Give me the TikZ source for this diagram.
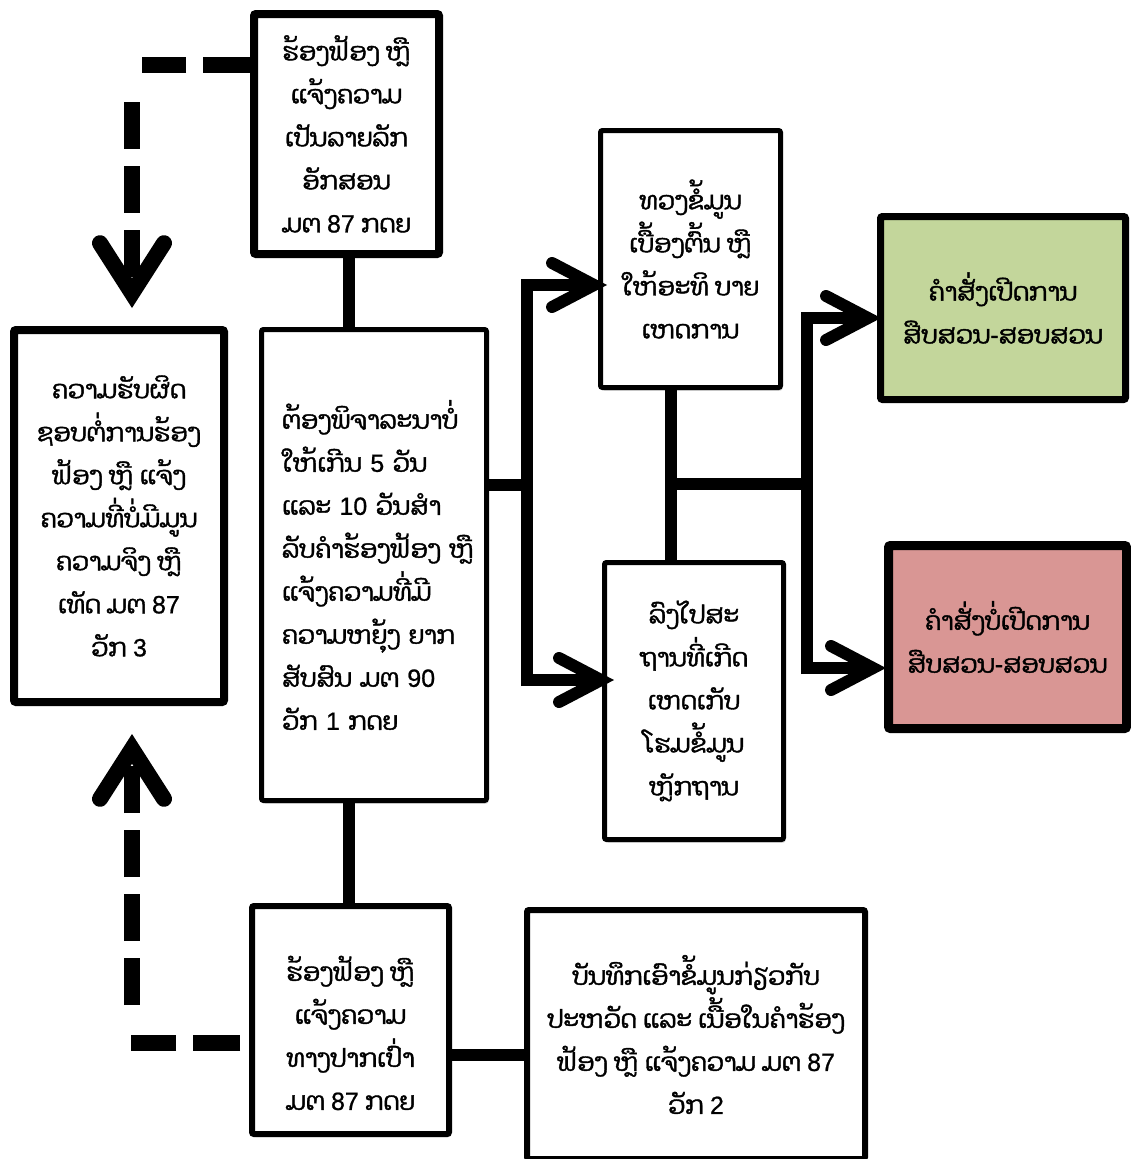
\documentclass[tikz,border=0pt]{standalone}
\usepackage{fontspec}
\newfontfamily\laofont[Script=Lao,FakeBold=1.6]{Dhyana}
\newfontfamily\latnfont[FakeBold=0.8]{Liberation Sans}
\newcommand\dgt[1]{{\latnfont #1}}
\usetikzlibrary{arrows.meta,shadows,calc}
\definecolor{okgreen}{HTML}{C3D69B}
\definecolor{okred}{HTML}{D99694}
\begin{document}
\begin{tikzpicture}[x=1pt,y=-1pt,
  box/.style={draw=black, fill=white, rectangle, rounded corners=2pt, inner sep=0pt,
    align=center, font=\laofont\fontsize{25}{43}\selectfont,
    drop shadow={shadow xshift=2pt, shadow yshift=-3pt, opacity=0.18, fill=black}},
  txt/.style={inner sep=0pt, align=center, font=\laofont\fontsize{25}{43}\selectfont},
  conn/.style={line width=12pt, line join=miter, line cap=butt},
  solidarrow/.style={-{Straight Barb[length=42pt,width=44pt,line cap=round,line join=miter]}},
  dashline/.style={line width=16pt, line cap=butt, dash pattern=on 47pt off 17pt},
  bigarrow/.style={-{Straight Barb[length=50pt,width=64pt,line cap=round,line join=miter]}}
]
\useasboundingbox (0,0) rectangle (1131,1159);

% boxes
\node[box, line width=8pt, minimum width=185, minimum height=240] (A) at (346.5,134)
  {ຮ້ອງຟ້ອງ ຫຼື\\ແຈ້ງຄວາມ\\ເປັນລາຍລັກ\\ອັກສອນ\\ມຕ \dgt{87} ກດຍ};
\node[box, line width=8pt, minimum width=210, minimum height=372] (B) at (119,516)
  {ຄວາມຮັບຜິດ\\ຊອບຕໍ່ການຮ້ອງ\\ຟ້ອງ ຫຼື ແຈ້ງ\\ຄວາມທີ່ບໍ່ມີມູນ\\ຄວາມຈິງ ຫຼື\\ເທັດ ມຕ \dgt{87}\\ວັກ \dgt{3}};
\node[box, line width=5pt, minimum width=225, minimum height=471, align=left, text width=184] (C) at (374,565)
  {ຕ້ອງພິຈາລະນາບໍ່\\ໃຫ້ເກີນ \dgt{5} ວັນ\\ແລະ \dgt{10} ວັນສຳ\\ລັບຄຳຮ້ອງຟ້ອງ~ຫຼື\\ແຈ້ງຄວາມທີ່ມີ\\ຄວາມຫຍຸ້ງ~ຍາກ\\ສັບສົນ ມຕ \dgt{90}\\ວັກ \dgt{1} ກດຍ};
\node[box, line width=5pt, minimum width=180, minimum height=257] (D) at (690.5,259)
  {ທວງຂໍ້ມູນ\\ເບື້ອງຕົ້ນ ຫຼື\\ໃຫ້ອະທິ ບາຍ\\ເຫດການ};
\node[box, line width=5pt, minimum width=179, minimum height=277] (E) at (694,701)
  {ລົງໄປສະ\\ຖານທີ່ເກີດ\\ເຫດເກັບ\\ໂຮມຂໍ້ມູນ\\ຫຼັກຖານ};
\node[box, line width=7pt, fill=okgreen, minimum width=245, minimum height=183] (F) at (1003,308)
  {ຄຳສັ່ງເປີດການ\\ສືບສວນ\dgt{-}ສອບສວນ};
\node[box, line width=9pt, fill=okred, minimum width=238, minimum height=183] (G) at (1007.5,637)
  {ຄຳສັ່ງບໍ່ເປີດການ\\ສືບສວນ\dgt{-}ສອບສວນ};
\node[box, line width=6pt, minimum width=197, minimum height=228] (H) at (350.5,1020) {};
\node[txt] (Ht) at (350.5,1033) {ຮ້ອງຟ້ອງ ຫຼື\\ແຈ້ງຄວາມ\\ທາງປາກເປົ່າ\\ມຕ \dgt{87} ກດຍ};
\node[box, line width=6pt, minimum width=338, minimum height=249] (I) at (696,1034.5)
  {ບັນທຶກເອົາຂໍ້ມູນກ່ຽວກັບ\\ປະຫວັດ ແລະ ເນື້ອໃນຄຳຮ້ອງ\\ຟ້ອງ ຫຼື ແຈ້ງຄວາມ ມຕ \dgt{87}\\ວັກ \dgt{2}};

% junction coordinates
\coordinate (j1) at (527,485);
\coordinate (j1t) at (527,285);
\coordinate (j1b) at (527,680);
\coordinate (j3) at (671,484);
\coordinate (j2) at (807,484);
\coordinate (j2t) at (807,318);
\coordinate (j2b) at (807,668);
\coordinate (hv) at (349,0);
\coordinate (hi) at (490,1055);
\coordinate (d1) at (132,65);
\coordinate (d2) at (132,1043);

% solid connectors
\draw[conn] (A.south -| hv) -- (C.north -| hv);
\draw[conn] (C.south -| hv) -- (H.north -| hv);
\draw[conn] (C.east |- j1) -- (j1);
\draw[conn] ([yshift=-6pt]j1b) -- ([yshift=6pt]j1t);
\draw[conn, solidarrow, shorten >=-9pt] ([xshift=-6pt]j1t) -- (D.west |- j1t);
\draw[conn, solidarrow, shorten >=-12pt] ([xshift=-6pt]j1b) -- (E.west |- j1b);
\draw[conn] (D.south -| j3) -- (E.north -| j3);
\draw[conn] (j3) -- (j2);
\draw[conn] ([yshift=-6pt]j2b) -- ([yshift=6pt]j2t);
\draw[conn, solidarrow, shorten >=-4pt] ([xshift=-6pt]j2t) -- (F.west |- j2t);
\draw[conn, solidarrow, shorten >=-2pt] ([xshift=-6pt]j2b) -- (G.west |- j2b);
\draw[conn] (H.east |- hi) -- (I.west |- hi);

% dashed connectors
\draw[dashline] (A.west |- d1) -- ([xshift=10pt]d1);
\draw[dashline, bigarrow] ([yshift=-37pt]d1) -- ([yshift=18pt]B.north -| d1);
\draw[dashline] ([xshift=-9pt]H.west |- d2) -- ([xshift=-1pt]d2);
\draw[dashline, bigarrow] ([yshift=38pt]d2) -- ([yshift=-28pt]B.south -| d2);
\end{tikzpicture}
\end{document}
